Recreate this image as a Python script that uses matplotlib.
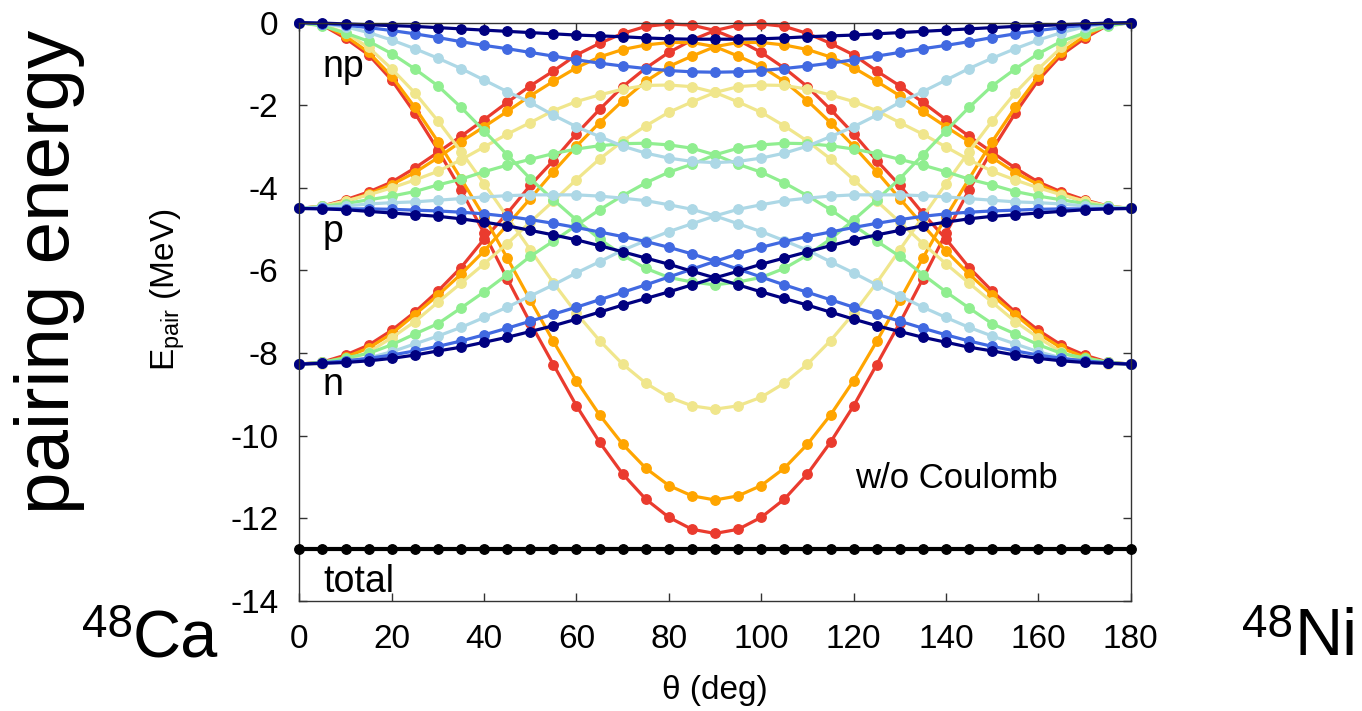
import matplotlib
matplotlib.use('Agg')
import matplotlib.pyplot as plt

# rotation angle in isospin space (deg)
theta = list(range(0, 181, 5))

# pairing energies (MeV), one family per colour: np, p, n
red_np = [0, -0.06, -0.38, -0.78, -1.39, -2.19, -3.08, -4.05, -5.10, -6.20, -7.27, -8.28, -9.28, -10.16, -10.93, -11.54, -11.98, -12.27, -12.37,
          -12.27, -11.98, -11.54, -10.93, -10.16, -9.28, -8.28, -7.27, -6.20, -5.10, -4.05, -3.08, -2.19, -1.39, -0.78, -0.38, -0.06, 0]
red_p = [-4.50, -4.44, -4.29, -4.10, -3.86, -3.52, -3.14, -2.75, -2.35, -1.93, -1.53, -1.17, -0.78, -0.50, -0.26, -0.09, -0.03, -0.06, -0.19,
         -0.42, -0.72, -1.10, -1.55, -2.10, -2.69, -3.34, -3.94, -4.62, -5.24, -5.93, -6.50, -7.01, -7.45, -7.81, -8.05, -8.22, -8.27]
red_n = [-8.27, -8.22, -8.05, -7.81, -7.45, -7.01, -6.50, -5.93, -5.24, -4.62, -3.94, -3.34, -2.69, -2.10, -1.55, -1.10, -0.72, -0.42, -0.19,
         -0.06, -0.03, -0.09, -0.26, -0.50, -0.78, -1.17, -1.53, -1.93, -2.35, -2.75, -3.14, -3.52, -3.86, -4.10, -4.29, -4.44, -4.50]

orange_np = [0, -0.05, -0.32, -0.72, -1.30, -2.05, -2.88, -3.78, -4.70, -5.70, -6.72, -7.72, -8.67, -9.50, -10.21, -10.79, -11.21, -11.46, -11.56,
             -11.46, -11.21, -10.79, -10.21, -9.50, -8.67, -7.72, -6.72, -5.70, -4.70, -3.78, -2.88, -2.05, -1.30, -0.72, -0.32, -0.05, 0]
orange_p = [-4.50, -4.46, -4.33, -4.15, -3.92, -3.63, -3.27, -2.88, -2.52, -2.15, -1.77, -1.42, -1.09, -0.83, -0.65, -0.54, -0.48, -0.48, -0.58,
            -0.81, -1.06, -1.42, -1.89, -2.42, -2.99, -3.61, -4.26, -4.90, -5.53, -6.09, -6.60, -7.07, -7.53, -7.88, -8.10, -8.24, -8.27]
orange_n = [-8.27, -8.24, -8.10, -7.88, -7.53, -7.07, -6.60, -6.09, -5.53, -4.90, -4.26, -3.61, -2.99, -2.42, -1.89, -1.42, -1.06, -0.81, -0.58,
            -0.48, -0.48, -0.54, -0.65, -0.83, -1.09, -1.42, -1.77, -2.15, -2.52, -2.88, -3.27, -3.63, -3.92, -4.15, -4.33, -4.46, -4.50]

yellow_np = [0, -0.05, -0.25, -0.60, -1.12, -1.70, -2.38, -3.12, -3.90, -4.70, -5.50, -6.30, -7.04, -7.70, -8.27, -8.73, -9.07, -9.28, -9.36,
             -9.28, -9.07, -8.73, -8.27, -7.70, -7.04, -6.30, -5.50, -4.70, -3.90, -3.12, -2.38, -1.70, -1.12, -0.60, -0.25, -0.05, 0]
yellow_p = [-4.50, -4.44, -4.32, -4.17, -4.00, -3.81, -3.60, -3.32, -3.01, -2.70, -2.42, -2.13, -1.91, -1.75, -1.61, -1.52, -1.51, -1.55, -1.69,
            -1.92, -2.17, -2.50, -2.87, -3.30, -3.80, -4.32, -4.83, -5.35, -5.84, -6.31, -6.77, -7.24, -7.63, -7.98, -8.18, -8.26, -8.27]
yellow_n = [-8.27, -8.26, -8.18, -7.98, -7.63, -7.24, -6.77, -6.31, -5.84, -5.35, -4.83, -4.32, -3.80, -3.30, -2.87, -2.50, -2.17, -1.92, -1.69,
            -1.55, -1.51, -1.52, -1.61, -1.75, -1.91, -2.13, -2.42, -2.70, -3.01, -3.32, -3.60, -3.81, -4.00, -4.17, -4.32, -4.44, -4.50]

green_np = [0, -0.08, -0.25, -0.45, -0.75, -1.12, -1.53, -2.05, -2.62, -3.20, -3.78, -4.29, -4.78, -5.24, -5.63, -5.95, -6.17, -6.28, -6.35,
            -6.28, -6.17, -5.95, -5.63, -5.24, -4.78, -4.29, -3.78, -3.20, -2.62, -2.05, -1.53, -1.12, -0.75, -0.45, -0.25, -0.08, 0]
green_p = [-4.50, -4.45, -4.38, -4.29, -4.20, -4.09, -3.93, -3.79, -3.61, -3.45, -3.31, -3.17, -3.06, -2.98, -2.93, -2.92, -2.96, -3.04, -3.20,
           -3.43, -3.62, -3.88, -4.19, -4.53, -4.91, -5.29, -5.66, -6.10, -6.52, -6.91, -7.29, -7.54, -7.80, -8.01, -8.12, -8.22, -8.27]
green_n = [-8.27, -8.22, -8.12, -8.01, -7.80, -7.54, -7.29, -6.91, -6.52, -6.10, -5.66, -5.29, -4.91, -4.53, -4.19, -3.88, -3.62, -3.43, -3.20,
           -3.04, -2.96, -2.92, -2.93, -2.98, -3.06, -3.17, -3.31, -3.45, -3.61, -3.79, -3.93, -4.09, -4.20, -4.29, -4.38, -4.45, -4.50]

lblue_np = [0, -0.03, -0.10, -0.24, -0.42, -0.63, -0.86, -1.11, -1.39, -1.67, -1.93, -2.24, -2.52, -2.76, -2.99, -3.16, -3.28, -3.36, -3.39,
            -3.36, -3.28, -3.16, -2.99, -2.76, -2.52, -2.24, -1.93, -1.67, -1.39, -1.11, -0.86, -0.63, -0.42, -0.24, -0.10, -0.03, 0]
lblue_p = [-4.50, -4.47, -4.44, -4.39, -4.36, -4.34, -4.30, -4.26, -4.22, -4.19, -4.17, -4.17, -4.17, -4.20, -4.25, -4.31, -4.41, -4.52, -4.68,
           -4.87, -5.06, -5.28, -5.51, -5.79, -6.06, -6.35, -6.62, -6.89, -7.14, -7.38, -7.59, -7.78, -7.97, -8.12, -8.21, -8.25, -8.27]
lblue_n = [-8.27, -8.25, -8.21, -8.12, -7.97, -7.78, -7.59, -7.38, -7.14, -6.89, -6.62, -6.35, -6.06, -5.79, -5.51, -5.28, -5.06, -4.87, -4.68,
           -4.52, -4.41, -4.31, -4.25, -4.20, -4.17, -4.17, -4.17, -4.19, -4.22, -4.26, -4.30, -4.34, -4.36, -4.39, -4.44, -4.47, -4.50]

blue_np = [0, -0.02, -0.06, -0.12, -0.19, -0.27, -0.36, -0.46, -0.55, -0.63, -0.72, -0.81, -0.90, -0.98, -1.05, -1.11, -1.16, -1.19, -1.20,
           -1.19, -1.16, -1.11, -1.05, -0.98, -0.90, -0.81, -0.72, -0.63, -0.55, -0.46, -0.36, -0.27, -0.19, -0.12, -0.06, -0.02, 0]
blue_p = [-4.50, -4.50, -4.51, -4.51, -4.52, -4.54, -4.56, -4.59, -4.63, -4.69, -4.77, -4.86, -4.96, -5.07, -5.18, -5.30, -5.44, -5.60, -5.78,
          -5.97, -6.16, -6.35, -6.53, -6.71, -6.89, -7.06, -7.23, -7.40, -7.56, -7.71, -7.84, -7.95, -8.05, -8.13, -8.19, -8.24, -8.27]
blue_n = [-8.27, -8.24, -8.19, -8.13, -8.05, -7.95, -7.84, -7.71, -7.56, -7.40, -7.23, -7.06, -6.89, -6.71, -6.53, -6.35, -6.16, -5.97, -5.78,
          -5.60, -5.44, -5.30, -5.18, -5.07, -4.96, -4.86, -4.77, -4.69, -4.63, -4.59, -4.56, -4.54, -4.52, -4.51, -4.51, -4.50, -4.50]

navy_np = [0, -0.01, -0.03, -0.05, -0.07, -0.09, -0.12, -0.15, -0.18, -0.21, -0.24, -0.27, -0.30, -0.32, -0.34, -0.37, -0.39, -0.40, -0.40,
           -0.40, -0.39, -0.37, -0.34, -0.32, -0.30, -0.27, -0.24, -0.21, -0.18, -0.15, -0.12, -0.09, -0.07, -0.05, -0.03, -0.01, 0]
navy_p = [-4.50, -4.51, -4.53, -4.57, -4.61, -4.65, -4.69, -4.75, -4.83, -4.92, -5.03, -5.14, -5.26, -5.40, -5.55, -5.70, -5.85, -6.02, -6.18,
          -6.35, -6.52, -6.68, -6.84, -7.01, -7.18, -7.34, -7.48, -7.62, -7.74, -7.86, -7.95, -8.05, -8.13, -8.19, -8.23, -8.25, -8.27]
navy_n = [-8.27, -8.25, -8.23, -8.19, -8.13, -8.05, -7.95, -7.86, -7.74, -7.62, -7.48, -7.34, -7.18, -7.01, -6.84, -6.68, -6.52, -6.35, -6.18,
          -6.02, -5.85, -5.70, -5.55, -5.40, -5.26, -5.14, -5.03, -4.92, -4.83, -4.75, -4.69, -4.65, -4.61, -4.57, -4.53, -4.51, -4.50]

total = [-12.75, -12.75, -12.75, -12.75, -12.75, -12.75, -12.75, -12.75, -12.75, -12.75, -12.75, -12.75, -12.75,
         -12.75, -12.75, -12.75, -12.75, -12.75, -12.75, -12.75, -12.75, -12.75, -12.75, -12.75, -12.75, -12.75,
         -12.75, -12.75, -12.75, -12.75, -12.75, -12.75, -12.75, -12.75, -12.75, -12.75, -12.75]


def make_plot():
    plt.rcParams['font.family'] = ['Liberation Sans', 'DejaVu Sans']
    plt.rcParams['mathtext.fontset'] = 'custom'
    plt.rcParams['mathtext.rm'] = 'Liberation Sans'
    plt.rcParams['axes.unicode_minus'] = False  # plain hyphens like gnuplot

    fig = plt.figure(figsize=(13.62, 7.11), dpi=100)
    ax = fig.add_axes([0.2198, 0.1551, 0.6104, 0.8130])

    families = [
        ('#ea3b2e', red_np, red_p, red_n),
        ('#ffa500', orange_np, orange_p, orange_n),
        ('#f0e68c', yellow_np, yellow_p, yellow_n),
        ('#90ee90', green_np, green_p, green_n),
        ('#add8e6', lblue_np, lblue_p, lblue_n),
        ('#4169e1', blue_np, blue_p, blue_n),
        ('#000080', navy_np, navy_p, navy_n),
    ]
    for col, e_np, e_p, e_n in families:
        for e in (e_np, e_p, e_n):
            ax.plot(theta, e, '-o', color=col, lw=2.3, ms=6.8, clip_on=False)
    ax.plot(theta, total, '-o', color='black', lw=3, ms=6.8, clip_on=False, zorder=5)

    ax.set_xlim(0, 180)
    ax.set_ylim(-14, 0)
    ax.set_xticks(range(0, 181, 20))
    ax.set_yticks(range(-14, 1, 2))
    ax.tick_params(direction='in', length=6, width=1, top=True, right=True,
                   labelsize=24, color='#333333')
    ax.tick_params(axis='x', pad=17)
    ax.tick_params(axis='y', pad=15)
    for s in ax.spines.values():
        s.set_color('#333333')
        s.set_linewidth(1)

    ax.text(5.1, -1.31, 'np', fontsize=27)
    ax.text(5.1, -5.30, 'p', fontsize=27)
    ax.text(5.1, -9.02, 'n', fontsize=27)
    ax.text(5.2, -13.78, 'total', fontsize=27)
    ax.text(120.3, -11.28, 'w/o Coulomb', fontsize=25)

    fig.text(715 / 1362, 1 - 690 / 711, 'θ (deg)', fontsize=24,
             ha='center', va='center')
    fig.text(168 / 1362, 1 - 290 / 711, r'E$_{\mathregular{pair}}$ (MeV)', fontsize=24,
             rotation=90, ha='center', va='center')

    # big annotations outside the frame
    fig.text(50 / 1362, 1 - 272 / 711, 'pairing energy', fontsize=55,
             rotation=90, ha='center', va='center')
    fig.text(133 / 1362, 1 - 637 / 711, '48', fontsize=33, ha='right', va='baseline')
    fig.text(133 / 1362, 1 - 657 / 711, 'Ca', fontsize=48, ha='left', va='baseline')
    fig.text(1293 / 1362, 1 - 637 / 711, '48', fontsize=33, ha='right', va='baseline')
    fig.text(1295 / 1362, 1 - 655 / 711, 'Ni', fontsize=48, ha='left', va='baseline')

    fig.savefig('out.png', dpi=100)


if __name__ == "__main__":
    make_plot()
